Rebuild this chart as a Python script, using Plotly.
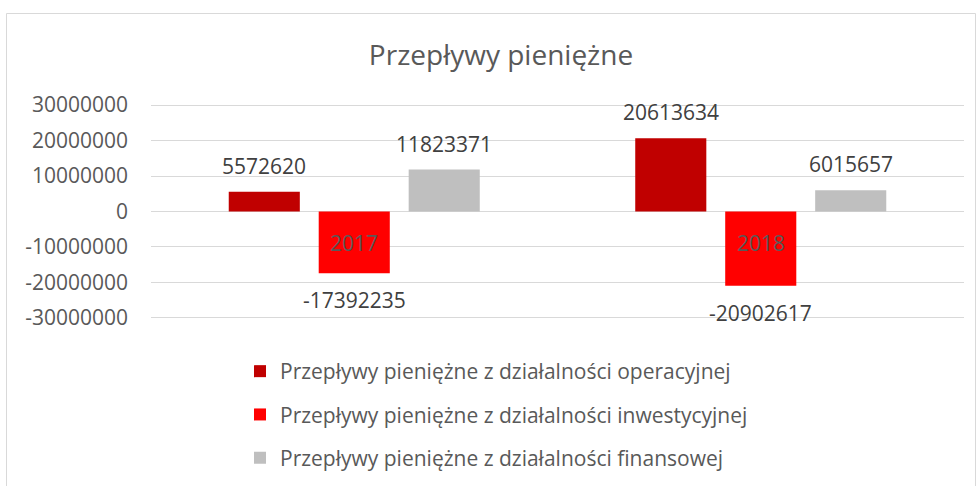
import plotly.graph_objects as go

categories = ["2017", "2018"]
series_names = [
    "Przepływy pieniężne z działalności operacyjnej",
    "Przepływy pieniężne z działalności inwestycyjnej",
    "Przepływy pieniężne z działalności finansowej",
]
operacyjne = [5572620, 20613634]
inwestycyjne = [-17392235, -20902617]
finansowe = [11823371, 6015657]
tick_values = [30000000, 20000000, 10000000, 0, -10000000, -20000000, -30000000]
tick_labels = ["30000000", "20000000", "10000000", "0", "-10000000", "-20000000", "-30000000"]

colors = ["#C00000", "#FF0000", "#BFBFBF"]
all_series = [operacyjne, inwestycyjne, finansowe]

FONT = "Open Sans"
FS = 21
W, H = 976, 486
L, R, T, B = 151, 12, 104, 167
plot_w = W - L - R
plot_h = H - T - B
bargap = 0.336
bargroupgap = 0.21

fig = go.Figure()
for name, vals, col in zip(series_names, all_series, colors):
    fig.add_trace(go.Bar(x=categories, y=vals, name=name, marker=dict(color=col, line=dict(width=0)),
                         legendgroup=name, hoverinfo="skip"))

# data labels (positioned on the category index of the category axis)
cat_px = plot_w / len(categories)
slot = cat_px * (1 - bargap) / 3
annotations = []
for i, vals in enumerate(all_series):
    for ci, v in enumerate(vals):
        annotations.append(dict(x=ci, y=v, xref="x", yref="y", text=str(v),
                                showarrow=False, xshift=(i - 1) * slot,
                                yshift=26 if v >= 0 else -27, yanchor="middle",
                                font=dict(family=FONT, size=FS, color="#404040")))
# category labels at zero line
for ci, c in enumerate(categories):
    annotations.append(dict(x=ci, y=0, xref="x", yref="y", text=c, showarrow=False,
                            yshift=-31, yanchor="middle",
                            font=dict(family=FONT, size=FS, color="#595959")))

fig.update_layout(
    width=W, height=H,
    margin=dict(l=L, r=R, t=T, b=B, autoexpand=False),
    paper_bgcolor="white", plot_bgcolor="white",
    barmode="group", bargap=bargap, bargroupgap=bargroupgap,
    title=dict(text="Przepływy pieniężne", x=501 / W, xref="container", xanchor="center",
               y=1 - 55 / H, yref="container", yanchor="middle",
               font=dict(family=FONT, size=28, color="#595959")),
    xaxis=dict(type="category", range=[-0.5, len(categories) - 0.5], showticklabels=False,
               showgrid=False, zeroline=False, showline=False, ticks=""),
    yaxis=dict(range=[-30300000, 30300000], tickvals=tick_values, ticktext=tick_labels,
               showgrid=True, gridcolor="#D9D9D9", gridwidth=1, zeroline=True,
               zerolinecolor="#D9D9D9", zerolinewidth=1, showline=False, ticks="",
               ticklabelstandoff=22, tickfont=dict(family=FONT, size=FS, color="#595959")),
    legend=dict(orientation="v", xref="container", yref="container",
                x=240 / W, y=1 - 351 / H, xanchor="left", yanchor="top",
                traceorder="grouped", tracegroupgap=13,
                font=dict(family=FONT, size=FS, color="#595959"), bgcolor="rgba(0,0,0,0)"),
    annotations=annotations,
    shapes=[dict(type="rect", xref="paper", yref="paper",
                 x0=(6.5 - L) / plot_w, x1=(975.5 - L) / plot_w,
                 y0=(H - B - 520) / plot_h, y1=(H - B - 13.5) / plot_h,
                 line=dict(color="#D9D9D9", width=1),
                 fillcolor="rgba(0,0,0,0)", layer="below")],
    showlegend=True,
)

fig.write_html("out.html", config={"displayModeBar": False},
               post_script="document.body.style.margin='0';document.body.style.overflow='hidden';")
